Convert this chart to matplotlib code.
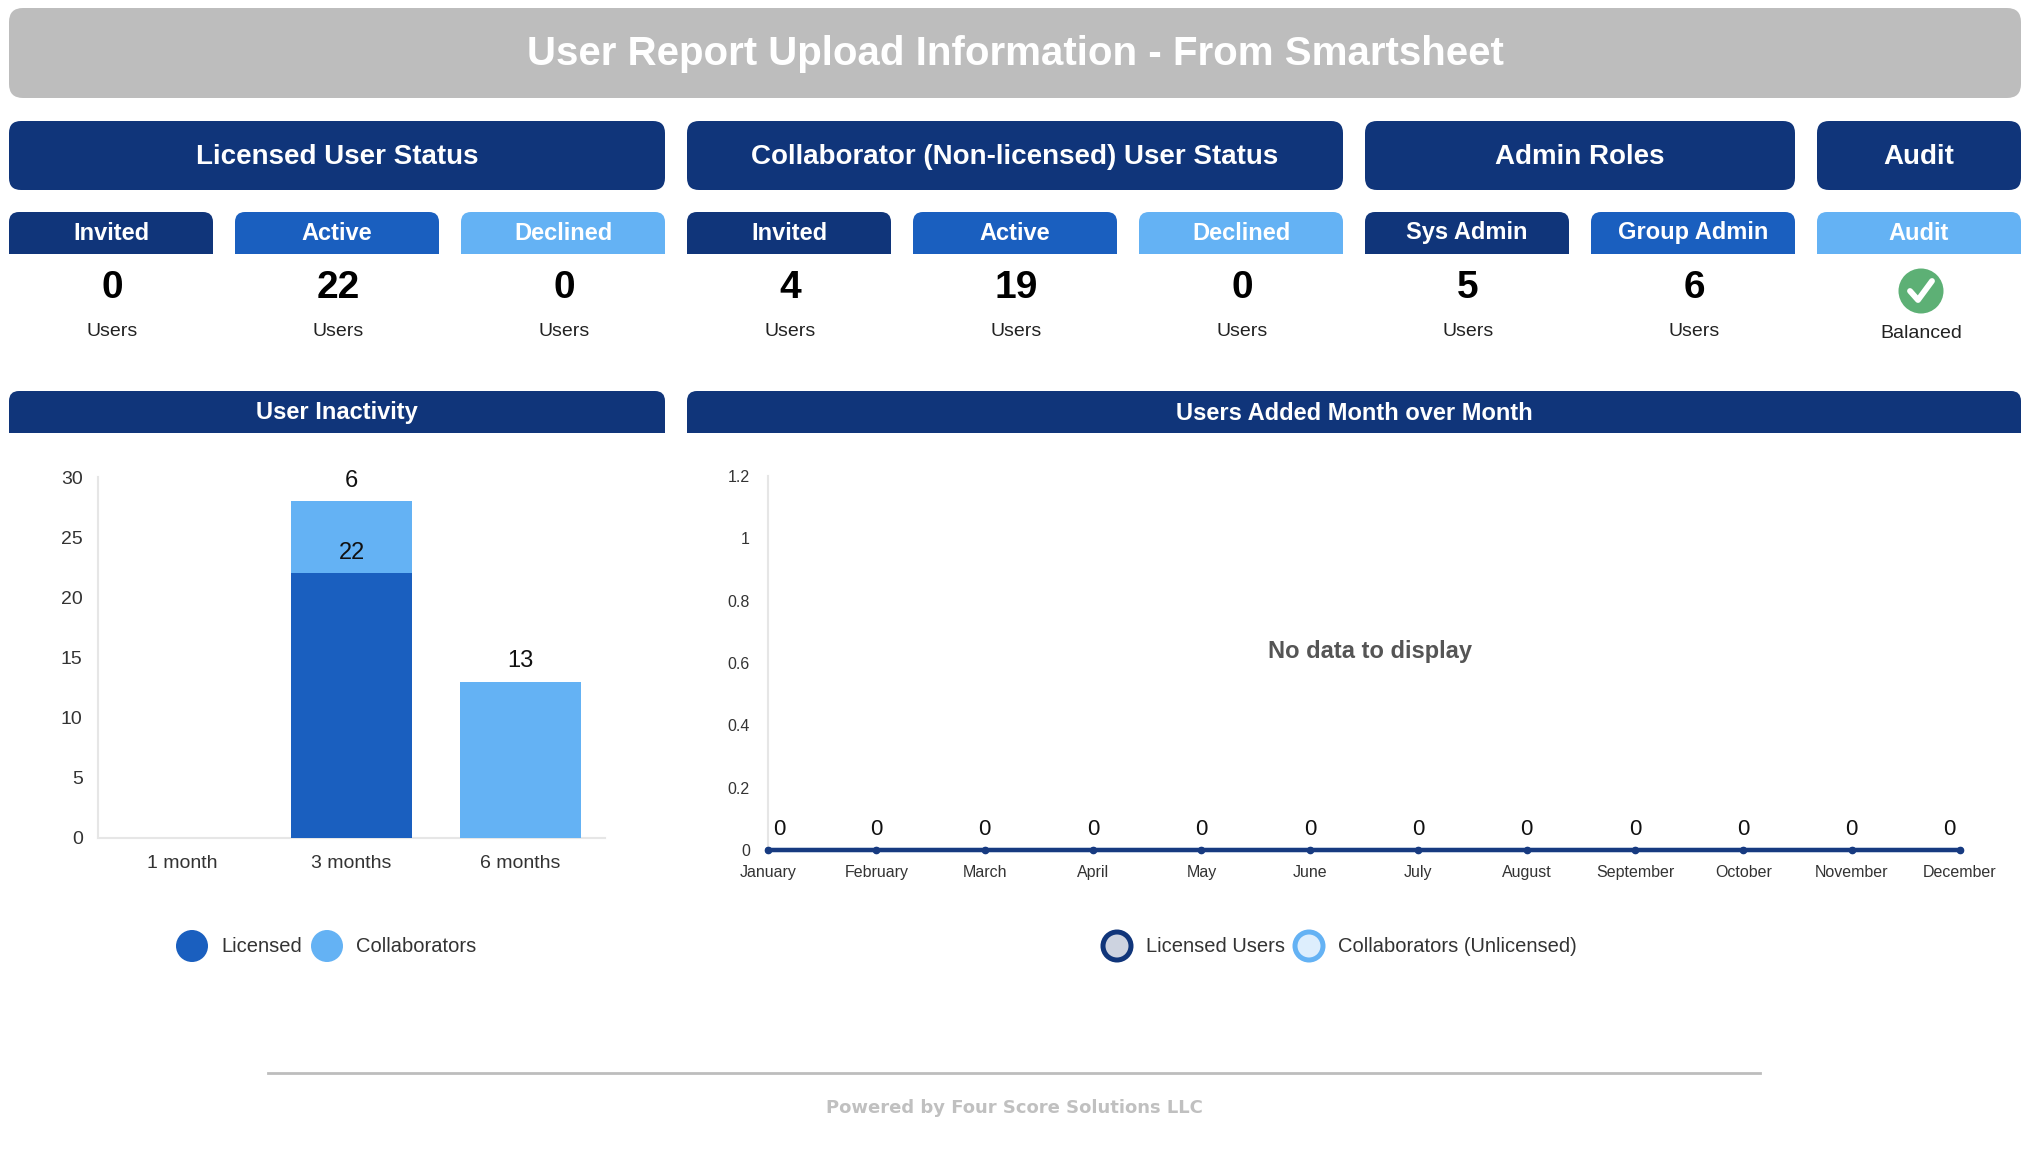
import matplotlib
matplotlib.use("Agg")
import matplotlib.pyplot as plt
from matplotlib.patches import FancyBboxPatch, Rectangle, Circle
from matplotlib.lines import Line2D
from matplotlib.ticker import FuncFormatter

# ---------------- data ----------------
title = "User Report Upload Information - From Smartsheet"
section_titles = ["Licensed User Status", "Collaborator (Non-licensed) User Status", "Admin Roles", "Audit"]
section_spans = [(0, 2), (3, 5), (6, 7), (8, 8)]
card_labels = ["Invited", "Active", "Declined", "Invited", "Active", "Declined", "Sys Admin", "Group Admin", "Audit"]
card_values = [0, 22, 0, 4, 19, 0, 5, 6]
card_units = ["Users"] * 8
audit_status = "Balanced"

inactivity_categories = ["1 month", "3 months", "6 months"]
inactive_licensed = [0, 22, 0]
inactive_collaborators = [0, 6, 13]
inactivity_series = ["Licensed", "Collaborators"]

months = ["January", "February", "March", "April", "May", "June", "July",
          "August", "September", "October", "November", "December"]
added_licensed = [0, 0, 0, 0, 0, 0, 0, 0, 0, 0, 0, 0]
added_collaborators = [0, 0, 0, 0, 0, 0, 0, 0, 0, 0, 0, 0]
added_series = ["Licensed Users", "Collaborators (Unlicensed)"]
line_yticks = [0, 0.2, 0.4, 0.6, 0.8, 1.0, 1.2]
bar_yticks = [0, 5, 10, 15, 20, 25, 30]

footer = "Powered by Four Score Solutions LLC"

# ---------------- style ----------------
NAVY = "#10357A"
BLUE = "#1A5FBF"
LIGHT = "#64B2F4"
GRAY_BANNER = "#BDBDBD"
card_colors = [NAVY, BLUE, LIGHT, NAVY, BLUE, LIGHT, NAVY, BLUE, LIGHT]
FONT = "Liberation Sans"
plt.rcParams["font.family"] = [FONT, "DejaVu Sans"]

W, H = 2028, 1149
fig = plt.figure(figsize=(W / 100, H / 100), dpi=100)
fig.patch.set_facecolor("white")

bg = fig.add_axes([0, 0, 1, 1], zorder=0)
bg.set_xlim(0, W)
bg.set_ylim(H, 0)
bg.axis("off")


def round_box(x0, y0, x1, y1, color, r, top_only=False):
    bg.add_patch(FancyBboxPatch((x0, y0), x1 - x0, y1 - y0,
                                boxstyle=f"round,pad=0,rounding_size={r}",
                                fc=color, ec="none"))
    if top_only:
        bg.add_patch(Rectangle((x0, (y0 + y1) / 2), x1 - x0, (y1 - y0) / 2,
                               fc=color, ec="none"))


# title banner
round_box(9, 8, 2021, 98, GRAY_BANNER, 14)
bg.text(W / 2 + 1, 54, title, color="white", fontsize=29, fontweight="bold",
        ha="center", va="center")

# columns
X0, CW, GAP = 9, 204, 22
col_left = [X0 + i * (CW + GAP) for i in range(9)]

for name, (a, b) in zip(section_titles, section_spans):
    x0 = col_left[a]
    x1 = col_left[b] + CW
    round_box(x0, 121, x1, 190, NAVY, 12)
    bg.text((x0 + x1) / 2, 157, name, color="white", fontsize=20,
            fontweight="bold", ha="center", va="center")

for i, lab in enumerate(card_labels):
    x0 = col_left[i]
    round_box(x0, 212, x0 + CW, 254, card_colors[i], 10, top_only=True)
    cx = x0 + CW / 2
    bg.text(cx, 233, lab, color="white", fontsize=17, fontweight="bold",
            ha="center", va="center")
    if i < len(card_values):
        bg.text(cx + 1, 288, str(card_values[i]), color="black", fontsize=28,
                fontweight="bold", ha="center", va="center")
        bg.text(cx + 1, 331, card_units[i], color="#222222", fontsize=14,
                ha="center", va="center")

# audit check
acx = col_left[8] + CW / 2 + 2
bg.add_patch(Circle((acx, 291), 22.5, fc="#5DB075", ec="none"))
bg.add_line(Line2D([acx - 11, acx - 3, acx + 11], [291, 300, 281],
                   color="white", lw=4.2, solid_capstyle="round",
                   solid_joinstyle="round"))
bg.text(acx, 334, audit_status, color="#222222", fontsize=14,
        ha="center", va="center")

# chart headers
round_box(9, 391, 665, 433, NAVY, 10, top_only=True)
bg.text((9 + 665) / 2, 413, "User Inactivity", color="white", fontsize=17,
        fontweight="bold", ha="center", va="center")
round_box(687, 391, 2021, 433, NAVY, 10, top_only=True)
bg.text((687 + 2021) / 2, 413, "Users Added Month over Month", color="white",
        fontsize=17, fontweight="bold", ha="center", va="center")

# ---------------- bar chart ----------------
ax1 = fig.add_axes([98 / W, 1 - 838 / H, (605 - 98) / W, (838 - 477) / H], zorder=2)
ax1.patch.set_alpha(0)
xpos = list(range(len(inactivity_categories)))
b1 = ax1.bar(xpos, inactive_licensed, width=0.72, color=BLUE, zorder=3)
b2 = ax1.bar(xpos, inactive_collaborators, width=0.72, bottom=inactive_licensed,
             color=LIGHT, zorder=3)
ax1.set_xlim(-0.5, 2.5)
ax1.set_ylim(0, 30)
ax1.set_yticks(bar_yticks)
ax1.set_xticks(xpos)
ax1.set_xticklabels(inactivity_categories)
for s in ["top", "right"]:
    ax1.spines[s].set_visible(False)
for s in ["left", "bottom"]:
    ax1.spines[s].set_color("#E6E6E6")
    ax1.spines[s].set_linewidth(1.5)
ax1.tick_params(length=0, labelsize=14, labelcolor="#333333")
ax1.tick_params(axis="y", pad=11)
ax1.tick_params(axis="x", pad=12)
for i in xpos:
    if inactive_licensed[i]:
        ax1.annotate(str(inactive_licensed[i]), (i, inactive_licensed[i]),
                     xytext=(0, 14.5), textcoords="offset points",
                     ha="center", va="center", fontsize=17, color="#111111")
    if inactive_collaborators[i]:
        top = inactive_licensed[i] + inactive_collaborators[i]
        ax1.annotate(str(inactive_collaborators[i]), (i, top),
                     xytext=(0, 14.5), textcoords="offset points",
                     ha="center", va="center", fontsize=17, color="#111111")

# legend 1 (manual)
for (cx, col, tx, lab) in [(192, BLUE, 221, inactivity_series[0]),
                           (327, LIGHT, 356, inactivity_series[1])]:
    bg.add_patch(Circle((cx, 946), 16, fc=col, ec="none"))
    bg.text(tx, 946, lab, fontsize=14.5, color="#333333", ha="left", va="center")

# ---------------- line chart ----------------
ax2 = fig.add_axes([768 / W, 1 - 850 / H, (1960 - 768) / W, (850 - 476) / H], zorder=2)
ax2.patch.set_alpha(0)
mx = list(range(len(months)))
ax2.plot(mx, added_collaborators, color=LIGHT, lw=3, marker="o", ms=4,
         clip_on=False, zorder=3)
ax2.plot(mx, added_licensed, color="#173A80", lw=3.2, marker="o", ms=4.5,
         clip_on=False, zorder=4)
ax2.set_xlim(0, 11)
ax2.set_ylim(0, 1.2)
ax2.set_yticks(line_yticks)
ax2.yaxis.set_major_formatter(FuncFormatter(lambda v, p: f"{v:g}"))
ax2.set_xticks(mx)
ax2.set_xticklabels(months)
for s in ["top", "right", "bottom"]:
    ax2.spines[s].set_visible(False)
ax2.spines["left"].set_color("#E6E6E6")
ax2.spines["left"].set_linewidth(1.5)
ax2.tick_params(length=0, labelsize=11.5, labelcolor="#333333")
ax2.tick_params(axis="y", pad=13)
ax2.tick_params(axis="x", pad=11)
for i, v in enumerate(added_licensed):
    dx = 8 if i == 0 else (-8 if i == len(months) - 1 else 0)
    ax2.annotate(str(v), (i, v), xytext=(dx, 14.5), textcoords="offset points",
                 ha="center", va="center", fontsize=16, color="#111111",
                 annotation_clip=False)
ax2.text(0.505, 0.53, "No data to display", transform=ax2.transAxes,
         ha="center", va="center", fontsize=17, fontweight="bold", color="#555555")

# legend 2 (manual)
bg.add_patch(Circle((1117, 946), 14, fc="#CDD3E0", ec=NAVY, lw=3.6))
bg.text(1146, 946, added_series[0], fontsize=14.5, color="#333333", ha="left", va="center")
bg.add_patch(Circle((1309, 946), 14, fc="#DDEEFD", ec=LIGHT, lw=3.6))
bg.text(1338, 946, added_series[1], fontsize=14.5, color="#333333", ha="left", va="center")

# footer
bg.add_line(Line2D([268, 1760], [1073, 1073], color="#BDBDBD", lw=2))
bg.text(1014, 1108, footer, fontsize=13, fontweight="bold", color="#C0C0C0",
        ha="center", va="center", family=["Liberation Sans Narrow", "DejaVu Sans"])

fig.savefig("out.png", dpi=100, facecolor="white")
